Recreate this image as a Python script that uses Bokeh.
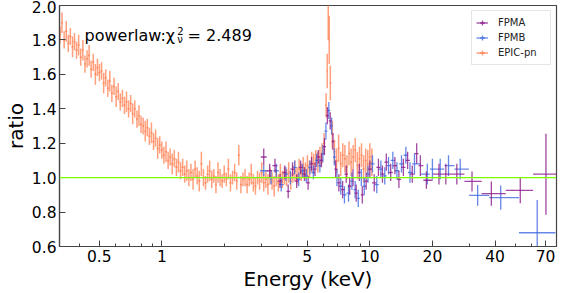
import numpy as np
from bokeh.plotting import figure
from bokeh.models import (ColumnDataSource, FixedTicker, PrintfTickFormatter,
                          CustomJSTickFormatter, Span, Label, Legend, LegendItem)
from bokeh.embed import file_html
from bokeh.resources import INLINE

# ---------------- data ----------------
EPIC_E = [
    0.324, 0.331, 0.339, 0.347, 0.355, 0.363, 0.372, 0.380, 0.389, 0.398,
    0.407, 0.417, 0.427, 0.437, 0.447, 0.457, 0.468, 0.479, 0.490, 0.501,
    0.513, 0.525, 0.537, 0.550, 0.562, 0.575, 0.589, 0.603, 0.617, 0.631,
    0.646, 0.661, 0.676, 0.692, 0.708, 0.724, 0.741, 0.759, 0.776, 0.794,
    0.813, 0.832, 0.851, 0.871, 0.891, 0.912, 0.933, 0.955, 0.977,
    1.000, 1.023, 1.047, 1.072, 1.096, 1.122, 1.148, 1.175, 1.202, 1.230,
    1.259, 1.288, 1.318, 1.349, 1.380, 1.413, 1.445, 1.479, 1.514, 1.549,
    1.585, 1.622, 1.660, 1.698, 1.738, 1.778, 1.820, 1.862, 1.905, 1.950,
    1.995, 2.042, 2.089, 2.138, 2.188, 2.239, 2.291, 2.344, 2.399, 2.455,
    2.512, 2.570, 2.630, 2.692, 2.754, 2.818, 2.884, 2.951, 3.020, 3.090,
    3.162, 3.236, 3.311, 3.388, 3.467, 3.548, 3.631, 3.715, 3.802, 3.890,
    3.981, 4.074, 4.169, 4.266, 4.365, 4.467, 4.571, 4.677, 4.786, 4.898,
    5.012, 5.129, 5.248, 5.370, 5.495, 5.623, 5.754, 5.888, 6.026, 6.166,
    6.240, 6.310, 6.380, 6.457, 6.607, 6.761, 6.918, 7.079, 7.244, 7.413, 7.586, 7.762,
    7.943, 8.128, 8.318, 8.511, 8.710, 8.913, 9.120, 9.333, 9.550, 9.772,
    10.00, 10.23]
EPIC_R = [
    1.83, 1.90, 1.80, 1.85, 1.78, 1.82, 1.76, 1.79, 1.74, 1.77,
    1.70, 1.74, 1.66, 1.69, 1.71, 1.63, 1.67, 1.60, 1.64, 1.61,
    1.62, 1.55, 1.58, 1.52, 1.56, 1.49, 1.53, 1.47, 1.50, 1.44,
    1.46, 1.42, 1.44, 1.40, 1.43, 1.37, 1.40, 1.34, 1.36, 1.31,
    1.30, 1.27, 1.29, 1.24, 1.26, 1.21, 1.23, 1.17, 1.19,
    1.16, 1.13, 1.15, 1.10, 1.12, 1.08, 1.11, 1.06, 1.09, 1.04,
    1.06, 1.02, 1.04, 1.00, 1.03, 0.99, 1.05, 1.01, 0.98, 1.08,
    1.00, 0.97, 1.02, 1.04, 0.99, 1.01, 0.96, 1.03, 1.00, 0.98,
    1.02, 0.99, 1.05, 0.97, 1.00, 1.03, 0.98, 1.13, 0.96, 0.99,
    1.00, 0.96, 0.99, 1.02, 0.97, 0.95, 1.00, 0.98, 1.03, 0.97,
    0.99, 0.96, 1.01, 0.98, 0.95, 1.00, 0.97, 1.02, 0.99, 1.01,
    1.00, 1.03, 0.98, 1.02, 1.04, 1.01, 1.05, 1.03, 1.06, 1.04,
    1.07, 1.05, 1.09, 1.08, 1.11, 1.09, 1.12, 1.14, 1.20, 1.42,
    1.62, 2.05, 1.80, 1.55, 1.25, 1.15, 1.10, 1.17, 1.08, 1.13, 1.11, 1.06,
    1.14, 1.09, 1.12, 1.16, 1.07, 1.11, 1.13, 1.05, 1.10, 1.08,
    1.12, 1.09]
EPIC_ERR = [
    0.05, 0.06, 0.05, 0.06, 0.05, 0.05, 0.06, 0.05, 0.05, 0.06,
    0.05, 0.06, 0.05, 0.05, 0.06, 0.05, 0.05, 0.06, 0.05, 0.05,
    0.05, 0.06, 0.05, 0.05, 0.06, 0.05, 0.05, 0.06, 0.05, 0.05,
    0.05, 0.05, 0.06, 0.05, 0.05, 0.06, 0.05, 0.05, 0.06, 0.05,
    0.05, 0.06, 0.05, 0.05, 0.06, 0.05, 0.05, 0.06, 0.05,
    0.05, 0.05, 0.06, 0.05, 0.05, 0.06, 0.05, 0.05, 0.06, 0.05,
    0.05, 0.05, 0.06, 0.05, 0.05, 0.06, 0.05, 0.05, 0.06, 0.07,
    0.05, 0.04, 0.05, 0.06, 0.05, 0.04, 0.05, 0.06, 0.05, 0.04,
    0.05, 0.04, 0.06, 0.05, 0.04, 0.05, 0.05, 0.06, 0.05, 0.04,
    0.05, 0.05, 0.04, 0.06, 0.05, 0.05, 0.04, 0.05, 0.06, 0.05,
    0.05, 0.06, 0.05, 0.05, 0.06, 0.05, 0.05, 0.06, 0.05, 0.05,
    0.05, 0.06, 0.05, 0.05, 0.06, 0.05, 0.06, 0.05, 0.06, 0.05,
    0.06, 0.05, 0.06, 0.06, 0.05, 0.06, 0.06, 0.06, 0.06, 0.07,
    0.10, 0.25, 0.14, 0.10, 0.08, 0.07, 0.07, 0.08, 0.07, 0.07, 0.08, 0.07,
    0.07, 0.08, 0.07, 0.07, 0.08, 0.07, 0.07, 0.08, 0.07, 0.08,
    0.08, 0.08]

FPMA_E = [3.09, 3.30, 3.50, 3.70, 3.90, 4.05, 4.25, 4.45, 4.65, 4.85,
          5.05, 5.25, 5.45, 5.65, 5.85, 6.05, 6.25, 6.45, 6.65, 6.85,
          7.1, 7.4, 7.7, 8.0, 8.3, 8.6, 8.9, 9.2, 9.6, 10.0,
          10.5, 11.0, 11.5, 12.0, 12.6, 13.2, 13.8, 14.5, 15.2, 16.0,
          16.8, 17.5, 18.7, 21.5, 23.2, 26.2, 31.0, 38.4, 52.9, 70.3]
FPMA_R = [1.12, 1.04, 1.07, 0.98, 1.03, 0.92, 1.05, 0.98, 1.06, 1.02,
          0.97, 1.08, 1.05, 1.12, 1.10, 1.18, 1.36, 1.33, 1.21, 1.05,
          0.97, 0.93, 1.02, 0.95, 1.00, 0.91, 1.03, 0.90, 0.98, 1.05,
          0.97, 1.06, 1.02, 1.09, 1.03, 1.07, 0.99, 1.06, 1.10, 1.02,
          1.14, 1.07, 0.985, 1.02, 1.02, 1.02, 0.978, 0.907, 0.926, 1.02]
FPMA_ERR = [0.05, 0.04, 0.04, 0.04, 0.04, 0.04, 0.04, 0.04, 0.04, 0.04,
            0.04, 0.04, 0.04, 0.04, 0.04, 0.05, 0.05, 0.05, 0.05, 0.05,
            0.05, 0.05, 0.05, 0.05, 0.05, 0.05, 0.05, 0.05, 0.05, 0.05,
            0.05, 0.05, 0.05, 0.05, 0.05, 0.05, 0.05, 0.05, 0.05, 0.05,
            0.06, 0.06, 0.05, 0.06, 0.06, 0.06, 0.058, 0.07, 0.075, 0.235]

FPMB_E = [3.09, 3.35, 3.55, 3.75, 3.95, 4.15, 4.35, 4.55, 4.75, 4.95,
          5.15, 5.35, 5.55, 5.75, 5.95, 6.15, 6.35, 6.55, 6.75, 6.95,
          7.25, 7.55, 7.9, 8.2, 8.5, 8.8, 9.1, 9.4, 9.8, 10.3,
          10.8, 11.3, 11.8, 12.3, 12.9, 13.5, 14.2, 14.9, 15.6, 16.4,
          18.9, 20.0, 21.8, 23.9, 27.2, 33.0, 42.6, 63.8]
FPMB_R = [1.04, 1.00, 1.04, 0.96, 1.02, 1.00, 1.06, 0.99, 1.04, 1.01,
          1.06, 1.03, 1.10, 1.07, 1.14, 1.27, 1.39, 1.30, 1.12, 1.00,
          0.95, 0.90, 0.91, 0.98, 0.93, 0.88, 1.00, 0.95, 1.02, 1.08,
          0.96, 1.05, 1.01, 1.07, 1.10, 1.04, 1.08, 1.13, 1.03, 1.08,
          1.02, 1.05, 1.05, 1.07, 1.05, 0.897, 0.884, 0.68]
FPMB_ERR = [0.03, 0.04, 0.04, 0.04, 0.04, 0.04, 0.04, 0.04, 0.04, 0.04,
            0.04, 0.04, 0.04, 0.04, 0.05, 0.05, 0.05, 0.05, 0.05, 0.05,
            0.05, 0.05, 0.05, 0.05, 0.05, 0.05, 0.05, 0.05, 0.05, 0.05,
            0.05, 0.05, 0.05, 0.05, 0.05, 0.05, 0.05, 0.05, 0.06, 0.06,
            0.06, 0.06, 0.06, 0.06, 0.06, 0.06, 0.07, 0.19]

X_TICKS = [0.5, 1, 5, 10, 20, 40, 70]
X_MINOR = [0.4, 0.6, 0.7, 0.8, 0.9, 2, 3, 4, 6, 7, 8, 9, 30, 50, 60]
Y_TICKS = [0.6, 0.8, 1.0, 1.2, 1.4, 1.6, 1.8, 2.0]
FIT_TEXT = "powerlaw:χ"
CHI_VALUE = "= 2.489"

FONT = "DejaVu Sans"

p = figure(width=586, height=293, x_axis_type="log",
           x_range=(0.322, 79), y_range=(0.6, 2.0),
           output_backend="svg", toolbar_location=None,
           min_border_left=59, min_border_right=30,
           min_border_top=5, min_border_bottom=47)
p.background_fill_color = "white"
p.border_fill_color = "white"
p.outline_line_color = "#444444"
p.outline_line_width = 1.2
p.xgrid.visible = False
p.ygrid.visible = False


def draw_series(E, R, ERR, color, alpha, lw):
    e = np.array(E, dtype=float)
    r = np.array(R, dtype=float)
    err = np.array(ERR, dtype=float)
    mids = np.sqrt(e[1:] * e[:-1])
    lo = np.concatenate([[e[0] ** 2 / mids[0]], mids])
    hi = np.concatenate([mids, [e[-1] ** 2 / mids[-1]]])
    src = ColumnDataSource(dict(e=e, r=r, lo=lo, hi=hi, rlo=r - err, rhi=r + err))
    p.segment(x0="e", y0="rlo", x1="e", y1="rhi", source=src,
              line_color=color, line_alpha=alpha, line_width=lw)
    h = p.segment(x0="lo", y0="r", x1="hi", y1="r", source=src,
                  line_color=color, line_alpha=alpha, line_width=lw)
    # marker renderer with a single NaN point, used only for the legend key
    mk = p.scatter(x=[np.nan], y=[np.nan], marker="cross", size=10,
                   line_color=color, line_alpha=alpha, line_width=1.3)
    return [h, mk]


leg_epic = draw_series(EPIC_E, EPIC_R, EPIC_ERR, "coral", 0.75, 1.5)
leg_b = draw_series(FPMB_E, FPMB_R, FPMB_ERR, "royalblue", 0.8, 1.3)
leg_a = draw_series(FPMA_E, FPMA_R, FPMA_ERR, "#8b1a8b", 0.8, 1.3)

p.add_layout(Span(location=1.0, dimension="width", line_color="lawngreen",
                  line_width=1.2))

# axes
p.xaxis.ticker = FixedTicker(ticks=X_TICKS, minor_ticks=X_MINOR)
p.xaxis.formatter = CustomJSTickFormatter(code="return String(tick);")
p.yaxis.ticker = FixedTicker(ticks=Y_TICKS, minor_ticks=[])
p.yaxis.formatter = PrintfTickFormatter(format="%.1f")
p.xaxis.axis_label = "Energy (keV)"
p.yaxis.axis_label = "ratio"
for ax in (p.xaxis[0], p.yaxis[0]):
    ax.axis_line_color = "#444444"
    ax.axis_line_width = 1.2
    ax.major_tick_line_color = "#444444"
    ax.minor_tick_line_color = "#444444"
    ax.major_tick_in = 6
    ax.major_tick_out = 0
    ax.minor_tick_in = 3
    ax.minor_tick_out = 0
    ax.major_label_text_font = FONT
    ax.major_label_text_font_size = "15.5px"
    ax.major_label_text_color = "black"
    ax.axis_label_text_font = FONT
    ax.axis_label_text_font_size = "20px"
    ax.axis_label_text_font_style = "normal"
    ax.axis_label_text_color = "black"
p.xaxis.major_label_standoff = 3
p.xaxis.axis_label_standoff = 2
p.yaxis.major_label_standoff = 3
p.yaxis.axis_label_standoff = 1

# fit annotation
for txt, xx, yy, fs in [(FIT_TEXT, 0.425, 1.827, "16px"),
                        ("2", 1.186, 1.850, "10px"),
                        ("ν", 1.186, 1.805, "10px"),
                        (CHI_VALUE, 1.329, 1.827, "16px")]:
    p.add_layout(Label(x=xx, y=yy, text=txt, text_font=FONT, text_font_size=fs,
                       text_color="black", text_baseline="alphabetic"))

legend = Legend(items=[LegendItem(label="FPMA", renderers=leg_a),
                       LegendItem(label="FPMB", renderers=leg_b),
                       LegendItem(label="EPIC-pn", renderers=leg_epic)],
                location="top_right", margin=5, padding=4, spacing=0,
                glyph_width=12, glyph_height=15, label_height=15,
                label_width=48, label_standoff=10, label_text_font=FONT,
                label_text_font_size="10px", label_text_color="#222222",
                border_line_color="#cccccc", border_line_width=1,
                background_fill_color="white", background_fill_alpha=0.85)
p.add_layout(legend)

open("out.html", "w").write(file_html(p, INLINE))
